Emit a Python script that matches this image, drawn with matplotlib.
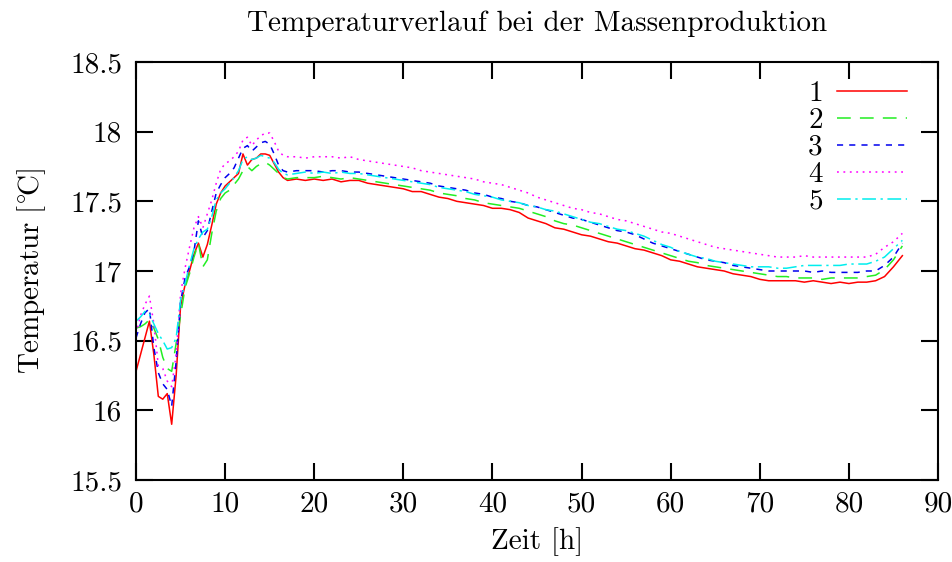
import matplotlib
matplotlib.use("Agg")
import matplotlib.pyplot as plt
from matplotlib.ticker import FuncFormatter, MultipleLocator

plt.rcParams['font.family'] = 'cmr10'
plt.rcParams['mathtext.fontset'] = 'cm'
plt.rcParams['axes.formatter.use_mathtext'] = True

# time axis [h]: half-hour steps during warm-up, then hourly
t_start = [0, 0.5, 1, 1.5, 2, 2.5, 3, 3.5, 4, 4.5, 5, 5.5, 6, 6.5, 7, 7.5, 8, 8.5,
           9, 9.5, 10, 10.5, 11, 11.5, 12, 12.5, 13, 13.5, 14, 14.5, 15, 15.5, 16, 16.5, 17]
t_rest = list(range(18, 87))
t = t_start + t_rest

s1 = [16.28, 16.40, 16.52, 16.64, 16.40, 16.10, 16.08, 16.12, 15.90, 16.25, 16.75, 16.90,
      17.00, 17.12, 17.20, 17.10, 17.19, 17.33, 17.48, 17.56, 17.61, 17.64, 17.67, 17.70,
      17.84, 17.76, 17.80, 17.81, 17.84, 17.84, 17.83, 17.77, 17.71, 17.67, 17.65,
      17.66, 17.65, 17.66, 17.65, 17.66, 17.64, 17.65, 17.65, 17.63, 17.62, 17.61, 17.60,
      17.59, 17.57, 17.57, 17.55, 17.53, 17.52, 17.50, 17.49, 17.48, 17.47, 17.45, 17.45,
      17.44, 17.42, 17.38, 17.36, 17.34, 17.31, 17.30, 17.28, 17.26, 17.25, 17.23, 17.21,
      17.20, 17.18, 17.16, 17.15, 17.13, 17.11, 17.08, 17.07, 17.05, 17.03, 17.02, 17.01,
      17.00, 16.98, 16.97, 16.96, 16.94, 16.93, 16.93, 16.93, 16.93, 16.92, 16.93, 16.92,
      16.91, 16.92, 16.91, 16.92, 16.92, 16.93, 16.96, 17.03, 17.11]
s2 = [16.59, 16.60, 16.62, 16.65, 16.59, 16.51, 16.38, 16.30, 16.28, 16.48, 16.68, 16.88,
      16.98, 17.10, 17.20, 17.03, 17.08, 17.27, 17.43, 17.52, 17.56, 17.58, 17.62, 17.66,
      17.72, 17.75, 17.72, 17.75, 17.77, 17.78, 17.76, 17.73, 17.70, 17.67, 17.66,
      17.67, 17.67, 17.67, 17.68, 17.67, 17.66, 17.67, 17.66, 17.65, 17.64, 17.63, 17.62,
      17.61, 17.60, 17.59, 17.58, 17.56, 17.55, 17.54, 17.52, 17.51, 17.49, 17.48, 17.47,
      17.46, 17.45, 17.43, 17.41, 17.39, 17.36, 17.34, 17.33, 17.31, 17.29, 17.27, 17.25,
      17.23, 17.21, 17.19, 17.17, 17.15, 17.13, 17.11, 17.09, 17.07, 17.06, 17.04, 17.03,
      17.02, 17.01, 17.00, 16.99, 16.98, 16.97, 16.96, 16.96, 16.95, 16.95, 16.95, 16.94,
      16.95, 16.95, 16.95, 16.95, 16.96, 16.97, 17.01, 17.08, 17.18]
s3 = [16.52, 16.62, 16.70, 16.73, 16.45, 16.27, 16.19, 16.15, 16.03, 16.35, 16.78, 16.95,
      17.03, 17.14, 17.36, 17.24, 17.29, 17.43, 17.56, 17.62, 17.67, 17.70, 17.74, 17.81,
      17.88, 17.90, 17.86, 17.89, 17.92, 17.93, 17.91, 17.84, 17.76, 17.72, 17.71,
      17.72, 17.72, 17.72, 17.71, 17.72, 17.72, 17.71, 17.71, 17.70, 17.69, 17.68, 17.67,
      17.66, 17.65, 17.64, 17.63, 17.61, 17.60, 17.59, 17.58, 17.56, 17.55, 17.53, 17.52,
      17.50, 17.49, 17.47, 17.46, 17.44, 17.42, 17.40, 17.38, 17.37, 17.35, 17.33, 17.31,
      17.29, 17.28, 17.26, 17.23, 17.20, 17.18, 17.16, 17.14, 17.12, 17.10, 17.08, 17.07,
      17.06, 17.04, 17.03, 17.02, 17.01, 17.00, 17.00, 17.00, 17.00, 17.00, 16.99, 17.00,
      16.99, 16.99, 16.99, 16.99, 17.00, 17.00, 17.04, 17.10, 17.20]
s4 = [16.55, 16.68, 16.76, 16.82, 16.62, 16.32, 16.30, 16.21, 16.17, 16.40, 16.84, 17.02,
      17.17, 17.31, 17.39, 17.31, 17.41, 17.51, 17.63, 17.73, 17.77, 17.79, 17.82, 17.86,
      17.94, 17.96, 17.90, 17.94, 17.97, 17.99, 17.99, 17.93, 17.86, 17.83, 17.82,
      17.82, 17.81, 17.82, 17.82, 17.82, 17.81, 17.82, 17.80, 17.79, 17.78, 17.77, 17.76,
      17.75, 17.74, 17.72, 17.71, 17.70, 17.69, 17.68, 17.67, 17.66, 17.64, 17.63, 17.62,
      17.60, 17.58, 17.56, 17.53, 17.51, 17.49, 17.47, 17.45, 17.44, 17.42, 17.41, 17.39,
      17.37, 17.36, 17.34, 17.32, 17.30, 17.28, 17.27, 17.25, 17.23, 17.21, 17.19, 17.17,
      17.16, 17.15, 17.14, 17.13, 17.12, 17.11, 17.10, 17.10, 17.10, 17.11, 17.10, 17.10,
      17.10, 17.10, 17.10, 17.10, 17.10, 17.12, 17.17, 17.21, 17.27]
s5 = [16.64, 16.67, 16.71, 16.69, 16.62, 16.55, 16.50, 16.44, 16.45, 16.52, 16.79, 16.91,
      17.04, 17.16, 17.23, 17.28, 17.30, 17.39, 17.51, 17.56, 17.59, 17.63, 17.67, 17.72,
      17.80, 17.82, 17.80, 17.81, 17.83, 17.82, 17.81, 17.78, 17.73, 17.70, 17.69,
      17.70, 17.71, 17.70, 17.71, 17.70, 17.71, 17.70, 17.70, 17.69, 17.68, 17.67, 17.66,
      17.65, 17.64, 17.63, 17.62, 17.60, 17.59, 17.58, 17.57, 17.55, 17.54, 17.53, 17.51,
      17.50, 17.49, 17.47, 17.46, 17.44, 17.43, 17.41, 17.39, 17.37, 17.35, 17.34, 17.32,
      17.30, 17.29, 17.27, 17.25, 17.22, 17.19, 17.17, 17.14, 17.12, 17.10, 17.09, 17.07,
      17.06, 17.05, 17.04, 17.03, 17.03, 17.03, 17.02, 17.02, 17.03, 17.04, 17.04, 17.04,
      17.04, 17.04, 17.05, 17.05, 17.05, 17.07, 17.10, 17.16, 17.22]

series = [s1, s2, s3, s4, s5]
labels = ['1', '2', '3', '4', '5']
colors = ['#ff0000', '#22ee22', '#0000ee', '#ff00ff', '#00eeee']
dashes = [None, (9, 6), (4, 4), (1.2, 3), (9, 3, 1.5, 3)]

fs = 21

fig = plt.figure(figsize=(9.52, 5.62), dpi=100)
ax = fig.add_axes([0.1429, 0.1459, 0.8424, 0.7438])

for y, lab, c, d in zip(series, labels, colors, dashes):
    line, = ax.plot(t, y, color=c, lw=1.1, label=lab)
    if d is not None:
        line.set_dashes(d)

ax.set_xlim(0, 90)
ax.set_ylim(15.5, 18.5)
ax.xaxis.set_major_locator(MultipleLocator(10))
ax.yaxis.set_major_locator(MultipleLocator(0.5))
ax.yaxis.set_major_formatter(FuncFormatter(lambda v, p: '%g' % v))
ax.xaxis.set_major_formatter(FuncFormatter(lambda v, p: '%g' % v))
ax.tick_params(direction='in', length=12, width=1.5, top=True, right=True,
               labelsize=fs)
ax.tick_params(axis='y', pad=10)
ax.tick_params(axis='x', pad=8)
for sp in ax.spines.values():
    sp.set_linewidth(1.5)

ax.set_title('Temperaturverlauf bei der Massenproduktion', fontsize=fs, pad=22)
ax.set_xlabel('Zeit [h]', fontsize=fs, labelpad=7)
ax.set_ylabel(r'$\mathrm{Temperatur}\ [^{\circ}\!\mathrm{C}]$', fontsize=fs, labelpad=16)

ax.legend(loc='upper right', frameon=False, markerfirst=False, fontsize=fs,
          handlelength=2.4, handletextpad=0.5, labelspacing=0.02,
          borderaxespad=0.4, bbox_to_anchor=(0.991, 1.012))

fig.savefig('out.png', dpi=100)
